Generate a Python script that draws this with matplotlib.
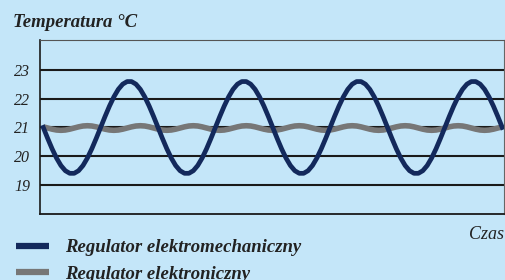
import matplotlib
matplotlib.use("Agg")
import matplotlib.pyplot as plt

# time axis (arbitrary units, step 0.5)
czas = [i * 0.5 for i in range(105)]

# electromechanical regulator: big swings around 21 C
temp_mech = [
    21.0, 20.62, 20.26, 19.94, 19.68, 19.50, 19.41, 19.41, 19.50, 19.68, 19.94, 20.26, 20.62,
    21.0, 21.38, 21.74, 22.06, 22.32, 22.50, 22.59, 22.59, 22.50, 22.32, 22.06, 21.74, 21.38,
    21.0, 20.62, 20.26, 19.94, 19.68, 19.50, 19.41, 19.41, 19.50, 19.68, 19.94, 20.26, 20.62,
    21.0, 21.38, 21.74, 22.06, 22.32, 22.50, 22.59, 22.59, 22.50, 22.32, 22.06, 21.74, 21.38,
    21.0, 20.62, 20.26, 19.94, 19.68, 19.50, 19.41, 19.41, 19.50, 19.68, 19.94, 20.26, 20.62,
    21.0, 21.38, 21.74, 22.06, 22.32, 22.50, 22.59, 22.59, 22.50, 22.32, 22.06, 21.74, 21.38,
    21.0, 20.62, 20.26, 19.94, 19.68, 19.50, 19.41, 19.41, 19.50, 19.68, 19.94, 20.26, 20.62,
    21.0, 21.38, 21.74, 22.06, 22.32, 22.50, 22.59, 22.59, 22.50, 22.32, 22.06, 21.74, 21.38,
    21.0,
]

# electronic regulator: small ripple just under 21 C
temp_elek = [
    21.02, 20.98, 20.94, 20.91, 20.90, 20.91, 20.94, 20.98, 21.02, 21.05, 21.06, 21.05,
    21.02, 20.98, 20.94, 20.91, 20.90, 20.91, 20.94, 20.98, 21.02, 21.05, 21.06, 21.05,
    21.02, 20.98, 20.94, 20.91, 20.90, 20.91, 20.94, 20.98, 21.02, 21.05, 21.06, 21.05,
    21.02, 20.98, 20.94, 20.91, 20.90, 20.91, 20.94, 20.98, 21.02, 21.05, 21.06, 21.05,
    21.02, 20.98, 20.94, 20.91, 20.90, 20.91, 20.94, 20.98, 21.02, 21.05, 21.06, 21.05,
    21.02, 20.98, 20.94, 20.91, 20.90, 20.91, 20.94, 20.98, 21.02, 21.05, 21.06, 21.05,
    21.02, 20.98, 20.94, 20.91, 20.90, 20.91, 20.94, 20.98, 21.02, 21.05, 21.06, 21.05,
    21.02, 20.98, 20.94, 20.91, 20.90, 20.91, 20.94, 20.98, 21.02, 21.05, 21.06, 21.05,
    21.02, 20.98, 20.94, 20.91, 20.90, 20.91, 20.94, 20.98, 21.02,
]

y_ticks = [19, 20, 21, 22, 23]
y_labels = ["19", "20", "21", "22", "23"]
nazwy = ["Regulator elektromechaniczny", "Regulator elektroniczny"]

TLO = "#c4e6f9"
GRANAT = "#13295c"
SZARY = "#777777"
SERIF = "Liberation Serif"

fig = plt.figure(figsize=(5.05, 2.8), dpi=100, facecolor=TLO)
ax = fig.add_axes([40 / 505, 1 - 214 / 280, 464 / 505, 174 / 280])
ax.set_facecolor(TLO)

for y in y_ticks:
    ax.axhline(y, color="#1a1a1a", lw=1.5, zorder=1)

l2, = ax.plot(czas, temp_elek, color=SZARY, lw=4.0, solid_capstyle="butt", zorder=2)
l1, = ax.plot(czas, temp_mech, color=GRANAT, lw=3.4, solid_joinstyle="round", zorder=3)

ax.set_xlim(-0.37, 52.2)
ax.set_ylim(18, 24.03)
ax.set_xticks([])
ax.set_yticks(y_ticks)
ax.set_yticklabels(y_labels, family=SERIF, style="italic", fontsize=11.5, color="#222222")
ax.tick_params(axis="y", length=0, pad=7)

ax.spines["left"].set_color("#1a1a1a")
ax.spines["left"].set_linewidth(1.2)
ax.spines["bottom"].set_color("#1a1a1a")
ax.spines["bottom"].set_linewidth(1.3)
ax.spines["top"].set_color("#555555")
ax.spines["top"].set_linewidth(0.8)
ax.spines["right"].set_color("#666666")
ax.spines["right"].set_linewidth(0.8)

fig.text(13 / 505, 1 - 27 / 280, "Temperatura °C", family=SERIF, style="italic",
         weight="bold", fontsize=13.5, color="#222222", va="baseline", ha="left")
fig.text(504 / 505, 1 - 239 / 280, "Czas", family=SERIF, style="italic",
         fontsize=13, color="#222222", va="baseline", ha="right")

leg = fig.legend([l1, l2], nazwy, loc="upper left", bbox_to_anchor=(16 / 505, 1 - 239 / 280),
                 frameon=False, handlelength=1.75, handletextpad=0.85, borderpad=0,
                 borderaxespad=0, labelspacing=0.5,
                 prop={"family": SERIF, "style": "italic", "weight": "bold", "size": 13.5})
for h in leg.get_lines():
    h.set_linewidth(4.5)
    h.set_solid_capstyle("butt")
for t in leg.get_texts():
    t.set_color("#222222")

fig.savefig("out.png", dpi=100, facecolor=TLO)
